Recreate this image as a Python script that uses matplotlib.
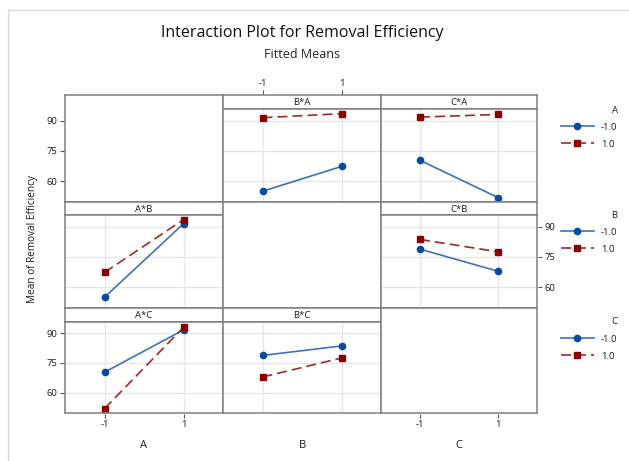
import matplotlib
matplotlib.use("Agg")
import matplotlib.pyplot as plt
from matplotlib.lines import Line2D

plt.rcParams['font.family'] = ['Open Sans', 'DejaVu Sans']

# data: fitted two-way means, table[level of first factor][level of second factor]
factors = ["A", "B", "C"]
levels = [-1, 1]
level_labels = ["-1.0", "1.0"]
ab_means = [[55.0, 67.3], [91.4, 93.4]]
ac_means = [[70.3, 51.9], [91.7, 93.0]]
bc_means = [[78.8, 67.9], [83.6, 77.5]]
y_ticks = [60, 75, 90]

pair_means = {("A", "B"): ab_means, ("A", "C"): ac_means, ("B", "C"): bc_means}


def cell_mean(fx, fl, ix, il):
    if (fx, fl) in pair_means:
        return pair_means[(fx, fl)][ix][il]
    return pair_means[(fl, fx)][il][ix]


W, H = 629, 461


def rect(l, t, r, b):
    return [l / W, 1 - b / H, (r - l) / W, (b - t) / H]


fig = plt.figure(figsize=(W / 100, H / 100), dpi=100)

frame_c = "#7f7f7f"
grid_c = "#e6e6e6"
txt_c = "#1a1a1a"
blue_line, blue_mk = "#3c72b6", "#0a4a9e"
red_line, red_mk = "#9c2a2a", "#8b0000"
fs = 6.8

col_x = [65, 223, 381, 537]
row_top = [95, 202, 308]
row_bot = [202, 308, 413]
strip_h = [14, 13, 14]

handles_rows = []
for i in range(3):
    row_handles = None
    for j in range(3):
        l, r = col_x[j], col_x[j + 1]
        t, b = row_top[i], row_bot[i]
        if i == j:
            # empty diagonal cell
            ax = fig.add_axes(rect(l, t, r, b))
            ax.set_xticks([])
            ax.set_yticks([])
            for s in ax.spines.values():
                s.set_color(frame_c)
                s.set_linewidth(1.1)
            continue
        # strip
        sax = fig.add_axes(rect(l, t, r, t + strip_h[i]))
        sax.set_xticks([])
        sax.set_yticks([])
        for s in sax.spines.values():
            s.set_color(frame_c)
            s.set_linewidth(1.1)
        sax.text(0.5, 0.45, f"{factors[j]}*{factors[i]}", ha="center", va="center",
                 fontsize=fs, color=txt_c, transform=sax.transAxes)
        ax = fig.add_axes(rect(l, t + strip_h[i], r, b))
        ax.set_xlim(-2, 2)
        ax.set_ylim(49.7, 95.7)
        ax.set_xticks(levels)
        ax.set_yticks(y_ticks)
        ax.grid(True, color=grid_c, lw=1)
        ax.set_axisbelow(True)
        for s in ax.spines.values():
            s.set_color(frame_c)
            s.set_linewidth(1.1)
        ax.tick_params(length=0, labelleft=False, labelbottom=False)
        lines = []
        for il, lev in enumerate(levels):
            ys = [cell_mean(factors[j], factors[i], ix, il) for ix in range(2)]
            if il == 0:
                ln, = ax.plot(levels, ys, color=blue_line, lw=1.2, marker="o", ms=4.5,
                              mfc=blue_mk, mec=blue_mk, label=level_labels[il])
            else:
                ln, = ax.plot(levels, ys, color=red_line, lw=1.2, ls=(0, (6, 3)),
                              marker="s", ms=4.3, mfc=red_mk, mec=red_mk,
                              label=level_labels[il])
            lines.append(ln)
        row_handles = lines
    handles_rows.append(row_handles)

# y tick labels: left on rows 1 and 3, right on row 2
for i in range(3):
    if i == 1:
        ax = fig.add_axes(rect(col_x[3], row_top[i] + strip_h[i], col_x[3] + 1, row_bot[i]))
        ax.yaxis.tick_right()
    else:
        ax = fig.add_axes(rect(col_x[0] - 1, row_top[i] + strip_h[i], col_x[0], row_bot[i]))
    ax.set_ylim(49.7, 95.7)
    ax.set_yticks(y_ticks)
    ax.set_yticklabels([str(v) for v in y_ticks])
    ax.set_xticks([])
    ax.patch.set_visible(False)
    for s in ax.spines.values():
        s.set_visible(False)
    ax.tick_params(axis="y", length=3, width=0.8, color="#555555", labelsize=fs,
                   labelcolor=txt_c, pad=1.5)

# x tick labels: top of column 2, bottom of columns 1 and 3
for j, top in [(1, True), (0, False), (2, False)]:
    l, r = col_x[j], col_x[j + 1]
    if top:
        ax = fig.add_axes(rect(l, row_top[0] - 1, r, row_top[0]))
        ax.xaxis.tick_top()
    else:
        ax = fig.add_axes(rect(l, row_bot[2], r, row_bot[2] + 1))
    ax.set_xlim(-2, 2)
    ax.set_xticks(levels)
    ax.set_xticklabels(["-1", "1"])
    ax.set_yticks([])
    ax.patch.set_visible(False)
    for s in ax.spines.values():
        s.set_visible(False)
    ax.tick_params(axis="x", length=3, width=0.8, color="#555555", labelsize=fs,
                   labelcolor=txt_c, pad=1.5)

# factor labels under the columns
for j in range(3):
    cx = (col_x[j] + col_x[j + 1]) / 2
    fig.text(cx / W, 1 - 445 / H, factors[j], ha="center", va="center", fontsize=8,
             color=txt_c)

# legends
leg_tops = [97, 202, 309]
for i in range(3):
    leg = fig.legend(handles=handles_rows[i], labels=level_labels, title=factors[i],
                     loc="upper left", bbox_to_anchor=(552 / W, 1 - leg_tops[i] / H),
                     frameon=False, fontsize=fs, title_fontsize=fs, handlelength=3.5,
                     handletextpad=0.8, labelspacing=0.85, alignment="right")
    plt.setp(leg.get_texts(), color=txt_c)
    leg.get_title().set_color(txt_c)

fig.text(33 / W, 1 - 239 / H, "Mean of Removal Efficiency", rotation=90, ha="center",
         va="center", fontsize=7.2, color=txt_c)
fig.text(302 / W, 1 - 33 / H, "Interaction Plot for Removal Efficiency", ha="center",
         va="center", fontsize=11.5, color="#111111")
fig.text(302 / W, 1 - 54 / H, "Fitted Means", ha="center", va="center", fontsize=9,
         color="#222222")

# outer border
fig.add_artist(Line2D([8 / W, 8 / W], [0, 1 - 10 / H], color="#d9d9d9", lw=1))
fig.add_artist(Line2D([8 / W, 1], [1 - 10 / H, 1 - 10 / H], color="#d9d9d9", lw=1))

fig.savefig("out.png", dpi=100)
